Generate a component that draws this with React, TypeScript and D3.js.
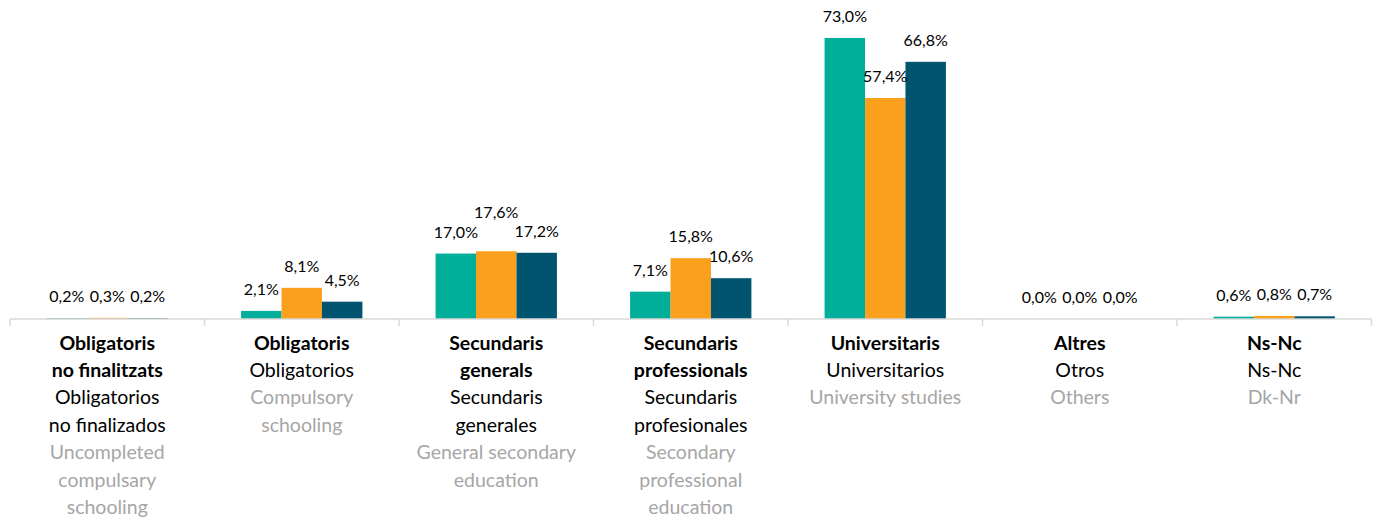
import React from "react";
import * as d3 from "d3";

const categories = ["c1", "c2", "c3", "c4", "c5", "c6", "c7"];
const boldLines: string[][] = [
  ["Obligatoris", "no finalitzats"],
  ["Obligatoris"],
  ["Secundaris", "generals"],
  ["Secundaris", "professionals"],
  ["Universitaris"],
  ["Altres"],
  ["Ns-Nc"],
];
const spanishLines: string[][] = [
  ["Obligatorios", "no finalizados"],
  ["Obligatorios"],
  ["Secundaris", "generales"],
  ["Secundaris", "profesionales"],
  ["Universitarios"],
  ["Otros"],
  ["Ns-Nc"],
];
const englishLines: string[][] = [
  ["Uncompleted", "compulsary", "schooling"],
  ["Compulsory", "schooling"],
  ["General secondary", "education"],
  ["Secondary", "professional", "education"],
  ["University studies"],
  ["Others"],
  ["Dk-Nr"],
];
const seriesNames = ["s1", "s2", "s3"];
const series1 = [0.2, 2.1, 17.0, 7.1, 73.0, 0.0, 0.6];
const series2 = [0.3, 8.1, 17.6, 15.8, 57.4, 0.0, 0.8];
const series3 = [0.2, 4.5, 17.2, 10.6, 66.8, 0.0, 0.7];
const seriesValues = [series1, series2, series3];
const colors = ["#00ae9a", "#fba01d", "#005470"];

const W = 1375;
const H = 520;
const LABEL_SIZE = 16;
const LABEL_FONT = LABEL_SIZE + "px Lato";
const CAT_FONT_SIZE = 19.5;
const FONT = "Lato, 'Open Sans', sans-serif";

function fmt(v: number) {
  return v.toFixed(1).replace(".", ",") + "%";
}

let ctx: CanvasRenderingContext2D | null = null;
function textWidth(t: string) {
  if (!ctx) {
    const c = document.createElement("canvas");
    ctx = c.getContext("2d");
  }
  if (!ctx) return t.length * 8;
  ctx.font = LABEL_FONT;
  return ctx.measureText(t).width;
}

export default function App() {
  const x0 = d3.scaleBand<string>().domain(categories).range([10, 1371.5]).paddingInner(0).paddingOuter(0);
  const x1 = d3.scaleBand<string>().domain(seriesNames).range([0, x0.bandwidth()]).paddingInner(0).paddingOuter(0.905);
  const y = d3.scaleLinear().domain([0, 80]).range([319, 11]);
  const baseY = y(0);

  // label positions with simple collision avoidance
  const labels: { x: number; y: number; text: string; key: string }[] = [];
  categories.forEach((c, ci) => {
    const group = seriesNames.map((s, si) => {
      const v = seriesValues[si][ci];
      const cx = (x0(c) as number) + (x1(s) as number) + x1.bandwidth() / 2;
      return { x: cx, y: y(v) - 16, text: fmt(v), key: c + s, w: textWidth(fmt(v)) };
    });
    const mid = group[1];
    [group[0], group[2]].forEach((n) => {
      const hOverlap = Math.abs(n.x - mid.x) < (n.w + mid.w) / 2 + 1;
      const vOverlap = Math.abs(n.y - mid.y) < 17;
      if (hOverlap && vOverlap) {
        mid.y = Math.min(mid.y, n.y - 20);
      }
    });
    group.forEach((g) => labels.push(g));
  });

  const ticks = categories.map((c) => x0(c) as number).concat([x0.range()[1]]);
  const lineH = 27.4;
  const firstBaseline = 349.5;

  return (
    <div style={{ position: "absolute", left: 0, top: 0 }}>
      <svg width={W} height={H} style={{ display: "block", background: "#fff" }} fontFamily={FONT}>
        {categories.map((c, ci) => (
          <g key={c}>
            {seriesNames.map((s, si) => {
              const v = seriesValues[si][ci];
              return (
                <rect
                  key={s}
                  x={(x0(c) as number) + (x1(s) as number)}
                  y={y(v)}
                  width={x1.bandwidth()}
                  height={baseY - y(v)}
                  fill={colors[si]}
                />
              );
            })}
          </g>
        ))}
        <line x1={x0.range()[0]} x2={x0.range()[1]} y1={baseY} y2={baseY} stroke="#d9d9d9" strokeWidth={1.5} />
        {ticks.map((t, i) => (
          <line key={i} x1={t} x2={t} y1={baseY} y2={baseY + 7} stroke="#d9d9d9" strokeWidth={1.5} />
        ))}
        {labels.map((l) => (
          <text key={l.key} x={l.x} y={l.y} textAnchor="middle" fontSize={LABEL_SIZE} fill="#000">
            {l.text}
          </text>
        ))}
        {categories.map((c, ci) => {
          const cx = (x0(c) as number) + x0.bandwidth() / 2;
          const lines = [
            ...boldLines[ci].map((t) => ({ t, w: 700, fill: "#000" })),
            ...spanishLines[ci].map((t) => ({ t, w: 400, fill: "#000" })),
            ...englishLines[ci].map((t) => ({ t, w: 400, fill: "#a6a6a6" })),
          ];
          return (
            <g key={c}>
              {lines.map((ln, li) => (
                <text
                  key={li}
                  x={cx}
                  y={firstBaseline + li * lineH}
                  textAnchor="middle"
                  fontSize={CAT_FONT_SIZE}
                  fontWeight={ln.w}
                  fill={ln.fill}
                >
                  {ln.t}
                </text>
              ))}
            </g>
          );
        })}
      </svg>
    </div>
  );
}
